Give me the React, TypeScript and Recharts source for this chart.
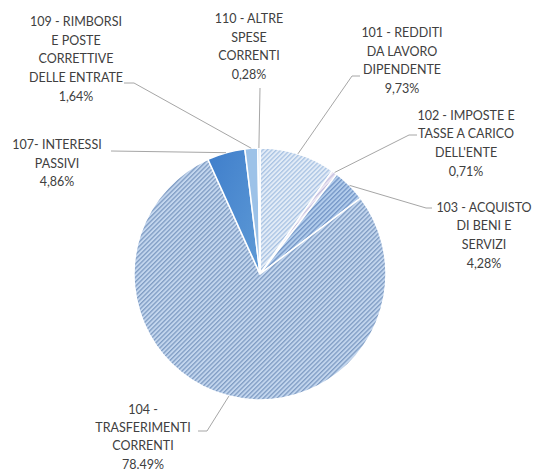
import React from "react";
import { PieChart, Pie, Cell } from "recharts";

const categories = [
  "101 - REDDITI DA LAVORO DIPENDENTE",
  "102 - IMPOSTE E TASSE A CARICO DELL'ENTE",
  "103 - ACQUISTO DI BENI E SERVIZI",
  "104 - TRASFERIMENTI CORRENTI",
  "107- INTERESSI PASSIVI",
  "109 - RIMBORSI E POSTE CORRETTIVE DELLE ENTRATE",
  "110 - ALTRE SPESE CORRENTI",
];
const values = [9.73, 0.71, 4.28, 78.49, 4.86, 1.64, 0.28];
const percentLabels = ["9,73%", "0,71%", "4,28%", "78.49%", "4,86%", "1,64%", "0,28%"];
const labelLines = [
  ["101 - REDDITI", "DA LAVORO", "DIPENDENTE"],
  ["102 - IMPOSTE E", "TASSE A CARICO", "DELL'ENTE"],
  ["103 - ACQUISTO", "DI BENI E", "SERVIZI"],
  ["104 -", "TRASFERIMENTI", "CORRENTI"],
  ["107- INTERESSI", "PASSIVI"],
  ["109 - RIMBORSI", "E POSTE", "CORRETTIVE", "DELLE ENTRATE"],
  ["110 - ALTRE", "SPESE", "CORRENTI"],
];

const data = categories.map((name, i) => ({ name, value: values[i] }));

// layout of the data labels (text centre x, first baseline y, leader start points)
const labelLayout = [
  { x: 402, y: 37, lh: 18.7, leader: [[360, 76], [352, 76]] },
  { x: 466, y: 119.5, lh: 18.7, leader: [[417, 135], [409, 135]] },
  { x: 484, y: 211.5, lh: 18.7, leader: [[432, 208], [426, 208]] },
  { x: 143, y: 414, lh: 18.2, leader: [[198, 431], [207, 431]] },
  { x: 57, y: 149, lh: 18.7, leader: [[111, 151]] },
  { x: 76, y: 26, lh: 18.7, leader: [[124, 83], [134, 83]] },
  { x: 249, y: 23, lh: 18.7, leader: [[260, 88]] },
];

const fills = ["url(#p101)", "url(#p102)", "url(#p103)", "url(#p104)", "url(#g107)", "#9cc2e8", "#c9dcf1"];

const RAD = Math.PI / 180;

const renderLabel = (props: any) => {
  const { cx, cy, midAngle, outerRadius, index } = props;
  const lay = labelLayout[index];
  const ex = cx + outerRadius * Math.cos(-midAngle * RAD);
  const ey = cy + outerRadius * Math.sin(-midAngle * RAD);
  const pts = [...lay.leader, [ex, ey]].map((p) => p.join(",")).join(" ");
  const lines = [...labelLines[index], percentLabels[index]];
  return (
    <g key={`lbl-${index}`}>
      <polyline points={pts} fill="none" stroke="#a6a6a6" strokeWidth={1} />
      <text
        x={lay.x}
        y={lay.y}
        textAnchor="middle"
        fill="#404040"
        fontSize={12.5}
        fontFamily="Lato, 'Liberation Sans', sans-serif"
      >
        {lines.map((l, k) => (
          <tspan key={k} x={lay.x} y={lay.y + k * lay.lh}>
            {l}
          </tspan>
        ))}
      </text>
    </g>
  );
};

export default function App() {
  return (
    <div style={{ position: "absolute", left: 0, top: 0, width: 540, height: 473, background: "#fff" }}>
      <svg width={0} height={0} style={{ position: "absolute" }}>
        <defs>
          <pattern id="p104" patternUnits="userSpaceOnUse" width={3.2} height={3.2} patternTransform="rotate(45)">
            <rect width={3.2} height={3.2} fill="#c3d6ee" />
            <rect width={1.3} height={3.2} fill="#7f9cc3" />
          </pattern>
          <pattern id="p101" patternUnits="userSpaceOnUse" width={3.2} height={3.2} patternTransform="rotate(45)">
            <rect width={3.2} height={3.2} fill="#e3ecf7" />
            <rect width={1.3} height={3.2} fill="#a9c3e3" />
          </pattern>
          <pattern id="p102" patternUnits="userSpaceOnUse" width={3.2} height={3.2} patternTransform="rotate(45)">
            <rect width={3.2} height={3.2} fill="#ece6f3" />
            <rect width={1.3} height={3.2} fill="#c4c0de" />
          </pattern>
          <pattern id="p103" patternUnits="userSpaceOnUse" width={3.2} height={3.2} patternTransform="rotate(45)">
            <rect width={3.2} height={3.2} fill="#b3cdec" />
            <rect width={1.3} height={3.2} fill="#7395c6" />
          </pattern>
          <linearGradient id="g107" x1="0" y1="0" x2="1" y2="1">
            <stop offset="0%" stopColor="#3f7ecb" />
            <stop offset="100%" stopColor="#5e9ad6" />
          </linearGradient>
        </defs>
      </svg>
      <PieChart width={540} height={473} margin={{ top: 0, right: 0, bottom: 0, left: 0 }}>
        <Pie
          data={data}
          dataKey="value"
          nameKey="name"
          cx={260}
          cy={274}
          outerRadius={126}
          startAngle={90}
          endAngle={-270}
          stroke="#ffffff"
          strokeWidth={1.5}
          label={renderLabel}
          labelLine={false}
          isAnimationActive={false}
        >
          {data.map((d, i) => (
            <Cell key={d.name} fill={fills[i]} />
          ))}
        </Pie>
      </PieChart>
    </div>
  );
}
